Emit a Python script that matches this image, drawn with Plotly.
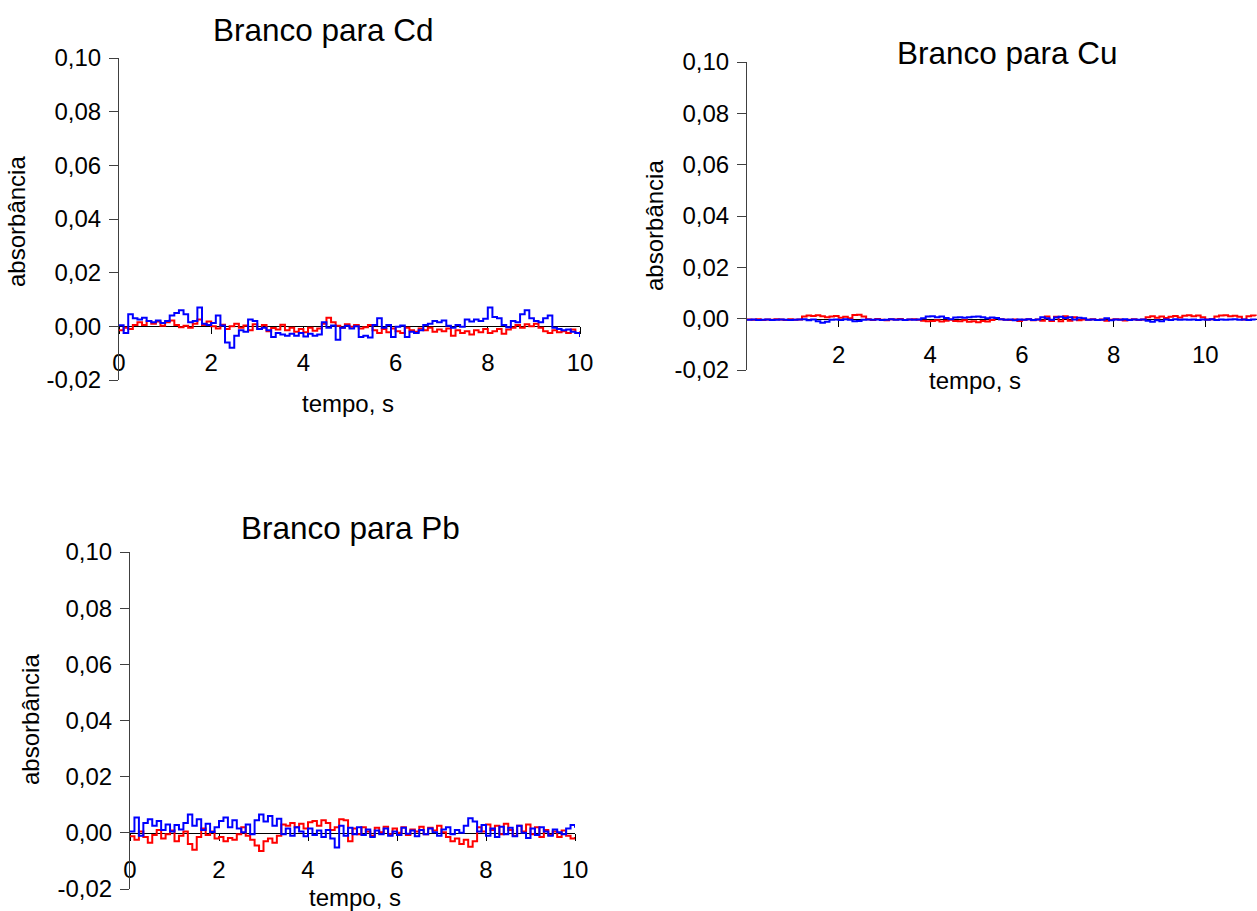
import numpy as np
import plotly.graph_objects as go

# ---- data: blank absorbance signals (milli-absorbance), sampled every 0.1 s ----
t_cd = np.round(np.arange(0, 101) * 0.1, 2)
t_pb = np.round(np.arange(0, 101) * 0.1, 2)
t_cu = np.round(np.arange(0, 112) * 0.1, 2)

cd_red = [-1.5, -0.5, -1.0, 0.5, 1.5, 0.5, 2.0, 1.0, 1.8, 0.2,
          1.5, 2.2, 0.5, -0.3, 0.2, -0.5, 1.0, 2.5, 0.5, 1.8,
          0.0, -0.8, 0.6, -1.0, 0.0, 1.0, -0.5, 0.3, -1.5, 0.8,
          -1.0, 0.5, -1.8, -0.6, -1.2, 0.6, -1.5, -0.5, -2.0, -1.0,
          -2.2, -0.5, -1.6, -0.8, 1.0, 3.2, 1.5, 0.2, -0.5, 0.8,
          -0.2, 0.5, -0.8, -0.3, 0.5, -1.5, -2.5, -1.0, -2.2, -0.8,
          -1.8, -2.5, -0.5, -1.5, -2.0, -0.8, -1.5, -0.5, -2.0, -1.2,
          -1.8, -0.8, -3.5, -1.5, -2.5, -1.8, -3.0, -1.5, -2.2, -1.0,
          -2.5, -1.8, -1.0, -2.8, -1.2, -0.5, 0.5, -0.5, 0.8, 0.0,
          1.0, -0.5, -1.8, -2.5, -1.5, -2.2, -1.8, -2.5, -1.2, -2.5,
          -1.8]
cd_blue = [0.4, -2.5, 4.5, 3.0, 2.5, 3.2, 2.0, 1.5, 2.2, 1.2,
           2.0, 4.0, 5.0, 6.0, 4.5, 1.5, 2.0, 7.0, 1.0, 0.5,
           1.2, 4.0, 0.3, -6.0, -8.0, -3.5, -1.5, -2.0, 2.5, 2.0,
           -1.0, -0.5, -1.5, -4.0, -2.5, -3.0, -3.5, -2.8, -3.5, -2.5,
           -3.8, -2.8, -3.5, -3.0, 1.5, -0.5, 0.3, -5.0, -0.5, 0.2,
           -0.8, 0.0, -4.0, -3.5, -4.2, 0.5, 3.0, -0.5, 0.5, -4.0,
           -0.2, 0.3, -4.0, -2.0, -2.5, -1.5, 0.5, 1.0, 2.0, 1.5,
           2.2, 0.2, -0.5, 0.5, -0.2, 2.5, 1.8, 2.5, 2.0, 2.8,
           7.0, 3.5, 3.0, 0.5, -0.3, 2.0, 1.5, 4.5, 6.0, 3.0,
           2.0, 1.5, 3.0, 4.0, -0.5, -1.0, -1.5, -1.2, -2.0, -2.5,
           -4.0]

cu_red = [-0.3, -0.4, -0.2, -0.5, -0.3, -0.4, -0.2, -0.3, -0.5, -0.2, -0.4, -0.3,
          0.8, 1.2, 1.0, 1.3,
          0.9, 0.6,
          0.8, 1.0, 0.4, 0.7, 0.2,
          1.4, 1.5, 0.8,
          -0.2, -0.5, -0.1, -0.4, -0.6, -0.2, -0.3, -0.1, -0.5, -0.3, -0.2, -0.4,
          -0.8, -1.0, -0.9, -0.6, -1.1, -0.8, -0.4, -0.9, -1.0,
          -0.6, -1.2, -1.0, -1.4, -0.9, -1.1, -0.5, 0.3, -0.2, -0.4,
          -0.5, -0.3, -0.9, -0.4, -0.2, -0.6, -0.3,
          -0.8, 0.8, -0.9, 0.7, -1.0, 0.9, -0.8, 0.6, -0.6, -0.3,
          -0.4, -0.2, -0.5, -0.3, -0.8, -0.4, -0.2, -0.3, -0.7, -0.4, -0.2, -0.5, -0.3,
          0.6, 0.9, 0.4, 0.8, 0.3, 0.7, 1.0, 0.5,
          1.1, 1.3, 0.9, 1.2, 0.6, -0.3, -0.2, 0.8, 1.2, 1.3, 0.9, 1.1, 0.7, -0.3, 0.9, 1.2, 1.0]
cu_blue = [-0.4, -0.3, -0.5, -0.4, -0.3, -0.5, -0.4, -0.3, -0.4, -0.5, -0.4, -0.3,
           -0.2, -0.6, -0.3, -1.0,
           -1.6, -1.2,
           -0.4, -0.3, -0.5, -0.2, -0.4,
           -1.0, -0.9, -0.4,
           -0.3, -0.4, -0.3, -0.5, -0.4, -0.2, -0.4, -0.3, -0.5, -0.3, -0.4, -0.3,
           0.2, 0.8, 0.9, 0.6, 0.8, 0.3, -0.2, 0.5, 0.6,
           0.4, 0.6, 0.7, 0.8, 0.6, 0.2, 0.5, 0.3, -0.2, -0.4,
           -0.3, -0.6, -0.3, -0.4, -0.2, -0.5, -0.3,
           0.6, 0.2, -0.4, 0.5, 0.7, 0.3, 0.6, -0.3, 0.4, 0.2,
           -0.4, -0.3, -0.5, -0.4, 0.2, -0.6, -0.3, -0.4, -0.2, -0.5, -0.3, -0.4, -0.3,
           -0.8, -1.2, -0.6, -1.0, -0.3, -0.5, -0.2, -0.4,
           -0.3, -0.4, -0.3, -0.5, -0.3, -0.4, -0.2, -0.5, -0.3, -0.4, -0.3, -0.2, -0.4, -0.3, -0.5, -0.3, -0.4]

pb_red = [-1.2, -2.5, 0.5, -1.5, -3.5, -0.8, 1.0, -2.0, -0.5, 0.8,
          -3.0, -1.0, 0.5, -4.0, -6.0, -1.5, 1.5, -0.8, 0.5, -2.0,
          -1.5, -3.0, -1.8, -2.5, -0.5, 2.0, -1.0, -2.5, -4.5, -6.5,
          -3.0, -2.0, -3.5, -1.0, 3.0, 2.5, 3.5, 2.0, 3.2, 1.5,
          3.8, 4.2, 2.5, 4.5, 3.5, 1.0, 2.0, 4.8, 4.5, -3.0,
          1.5, -0.5, 2.0, 0.5, -1.0, 1.8, 0.2, 2.2, -0.5, 1.5,
          0.0, 2.0, -0.8, 1.2, 0.5, 2.2, -0.5, 1.8, 0.8, 2.5,
          0.2, -1.5, -3.0, -2.0, -4.0, -2.5, -5.0, -3.0, 2.0, 0.5,
          3.0, 1.0, 2.5, -0.5, 3.2, 1.0, -1.0, 2.5, 0.5, 3.0,
          -0.5, 2.0, -1.5, 1.0, -0.8, 0.5, -1.5, 0.8, -1.0, -2.0,
          -1.5]
pb_blue = [0.5, 5.5, -1.0, 3.5, 4.8, 2.5, 4.2, 1.0, 3.0, 0.5,
           2.8, 1.2, 3.5, 6.5, 2.5, 4.8, 1.0, 3.2, 0.3, 2.0,
           4.2, 5.5, 2.0, 4.5, 1.5, 0.2, 3.0, -0.5, 4.5, 6.5,
           4.0, 6.0, 2.5, 5.0, -0.5, 1.5, -1.0, 2.0, 0.5, -1.2,
           1.5, -0.8, 0.8, -1.5, 1.0, -2.0, -5.2, 2.5, -1.0, 1.8,
           -0.5, 2.0, -0.8, 1.2, -1.5, 0.8, -0.5, 1.5, -1.0, 0.5,
           -0.8, 1.8, -0.3, 0.8, -1.2, 1.0, -0.5, 1.5, 0.2, -1.0,
           1.2, 2.0, -0.5, 1.0, 0.0, 2.5, 5.2, 4.0, 0.5, 2.8,
           -1.0, 1.5, -1.5, 2.2, -0.5, 1.8, -1.2, 2.5, 0.0, -1.8,
           1.5, -0.8, 2.0, 0.5, -1.0, 1.2, 0.2, -0.5, 1.5, 2.8,
           1.8]

y_ticks = [-0.02, 0.0, 0.02, 0.04, 0.06, 0.08, 0.10]
y_tick_text = ["-0,02", "0,00", "0,02", "0,04", "0,06", "0,08", "0,10"]

W, H = 1257, 911
FONT = "Liberation Sans, Arial, sans-serif"
RED, BLUE = "#FF0000", "#0000FF"


def px_x(p):
    return p / W


def px_y(p):
    return 1 - p / H


# panel boxes in pixels: (left, right, top, bottom), x range, x tick values
panels = [
    dict(name="Cd", box=(119, 580, 58, 380), xr=[0, 10], xt=[0, 2, 4, 6, 8, 10],
         t=t_cd, red=cd_red, blue=cd_blue),
    dict(name="Cu", box=(747, 1257, 62, 370), xr=[0, 11.13], xt=[2, 4, 6, 8, 10],
         t=t_cu, red=cu_red, blue=cu_blue),
    dict(name="Pb", box=(130, 575, 552, 889), xr=[0, 10], xt=[0, 2, 4, 6, 8, 10],
         t=t_pb, red=pb_red, blue=pb_blue),
]

fig = go.Figure()
layout = dict(
    width=W, height=H, margin=dict(l=0, r=0, t=0, b=0, autoexpand=False),
    paper_bgcolor="white", plot_bgcolor="white", showlegend=False,
    font=dict(family=FONT, size=24, color="black"),
)

for i, p in enumerate(panels, start=1):
    xa = "x" if i == 1 else f"x{i}"
    ya = "y" if i == 1 else f"y{i}"
    l, r, tp, bt = p["box"]
    yd = [px_y(bt), px_y(tp)]
    zero_pos = yd[0] + (yd[1] - yd[0]) * (0.02 / 0.12)

    for vals, col in ((p["red"], RED), (p["blue"], BLUE)):
        fig.add_trace(go.Scatter(
            x=p["t"], y=np.array(vals) / 1000.0, mode="lines",
            line=dict(color=col, width=2, shape="hv"),
            xaxis=xa, yaxis=ya, hoverinfo="skip",
        ))

    layout["xaxis" if i == 1 else f"xaxis{i}"] = dict(
        domain=[px_x(l), min(px_x(r), 1.0)], range=p["xr"], anchor="free",
        position=zero_pos, showline=True, linecolor="black", linewidth=1,
        ticks="outside", ticklen=7, tickcolor="black", tickwidth=1,
        tickvals=p["xt"], ticktext=[str(v) for v in p["xt"]],
        ticklabelstandoff=8, showgrid=False, zeroline=False,
        layer="below traces", tickfont=dict(size=24), automargin=False,
    )
    layout["yaxis" if i == 1 else f"yaxis{i}"] = dict(
        domain=yd, range=[-0.02, 0.10], anchor=xa,
        showline=True, linecolor="#404040", linewidth=1,
        ticks="outside", ticklen=9, tickcolor="#404040", tickwidth=1,
        tickvals=y_ticks, ticktext=y_tick_text, ticklabelstandoff=3,
        showgrid=False, zeroline=False, tickfont=dict(size=24), automargin=False,
    )

fig.update_layout(**layout)

# titles and axis captions
texts = [
    ("Branco para Cd", 323, 30, 31.5, 0),
    ("Branco para Cu", 1007, 53, 31.5, 0),
    ("Branco para Pb", 350, 528, 31.5, 0),
    ("tempo, s", 348, 403, 24, 0),
    ("tempo, s", 975, 380, 24, 0),
    ("tempo, s", 355, 897, 24, 0),
    ("absorbância", 17, 222, 24, -90),
    ("absorbância", 655, 226, 24, -90),
    ("absorbância", 30, 720, 24, -90),
]
for txt, x, y, size, ang in texts:
    fig.add_annotation(
        text=txt, x=px_x(x), y=px_y(y), xref="paper", yref="paper",
        xanchor="center", yanchor="middle", showarrow=False, textangle=ang,
        font=dict(family=FONT, size=size, color="black"),
    )

fig.write_html("out.html")
